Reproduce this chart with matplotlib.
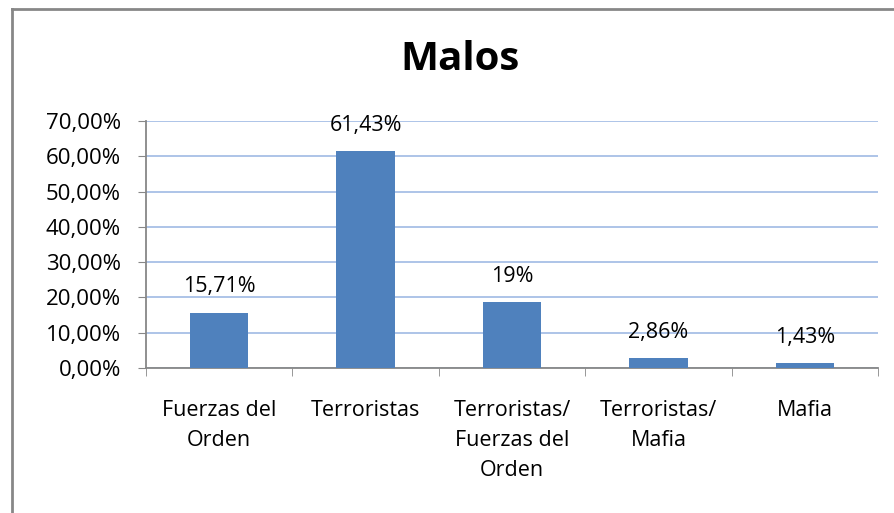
import matplotlib.pyplot as plt
from matplotlib.lines import Line2D

categories = ["Fuerzas del\nOrden", "Terroristas", "Terroristas/\nFuerzas del\nOrden",
              "Terroristas/\nMafia", "Mafia"]
values = [15.71, 61.43, 18.57, 2.86, 1.43]
labels = ["15,71%", "61,43%", "19%", "2,86%", "1,43%"]
yticks = [0, 10, 20, 30, 40, 50, 60, 70]
ytick_labels = ["0,00%", "10,00%", "20,00%", "30,00%", "40,00%", "50,00%", "60,00%", "70,00%"]

plt.rcParams['font.family'] = ['Open Sans', 'DejaVu Sans']

fig = plt.figure(figsize=(8.95, 5.13), dpi=100)
ax = fig.add_axes([146/895, 1 - 368/513, 732/895, 247/513])

x = list(range(len(values)))
ax.bar(x, values, width=0.4, color="#4F81BD", zorder=3)
for xi, v, lab in zip(x, values, labels):
    ax.text(xi, v + 7.3, lab, ha="center", va="center", fontsize=15.5, color="#000000")

ax.set_xlim(-0.5, len(values) - 0.5)
ax.set_ylim(0, 70)
ax.set_yticks(yticks)
ax.set_yticklabels(ytick_labels, fontsize=16)
ax.yaxis.grid(True, color="#A7BFE6", linewidth=1.3, zorder=0)
ax.set_xticks(x)
ax.set_xticklabels(categories, fontsize=15.5, linespacing=1.55, va="top")
ax.tick_params(axis="x", length=0, pad=23)
ax.tick_params(axis="y", length=6, color="#878787", pad=12)

# category boundary ticks
ax.set_xticks([i - 0.5 for i in range(len(values) + 1)], minor=True)
ax.tick_params(axis="x", which="minor", length=6, color="#878787", direction="out")

for s in ["top", "right"]:
    ax.spines[s].set_visible(False)
for s in ["left", "bottom"]:
    ax.spines[s].set_color("#878787")
    ax.spines[s].set_linewidth(1.3)

fig.text(460/895, 1 - 60/513, "Malos", ha="center", va="center", fontsize=29, fontweight="bold")

# outer chart border
fig.add_artist(Line2D([12.5/895, 12.5/895], [0, 1 - 8.5/513], color="#878787", linewidth=2))
fig.add_artist(Line2D([12.5/895, 894/895], [1 - 8.5/513, 1 - 8.5/513], color="#878787", linewidth=2))

fig.savefig("out.png", dpi=100)
